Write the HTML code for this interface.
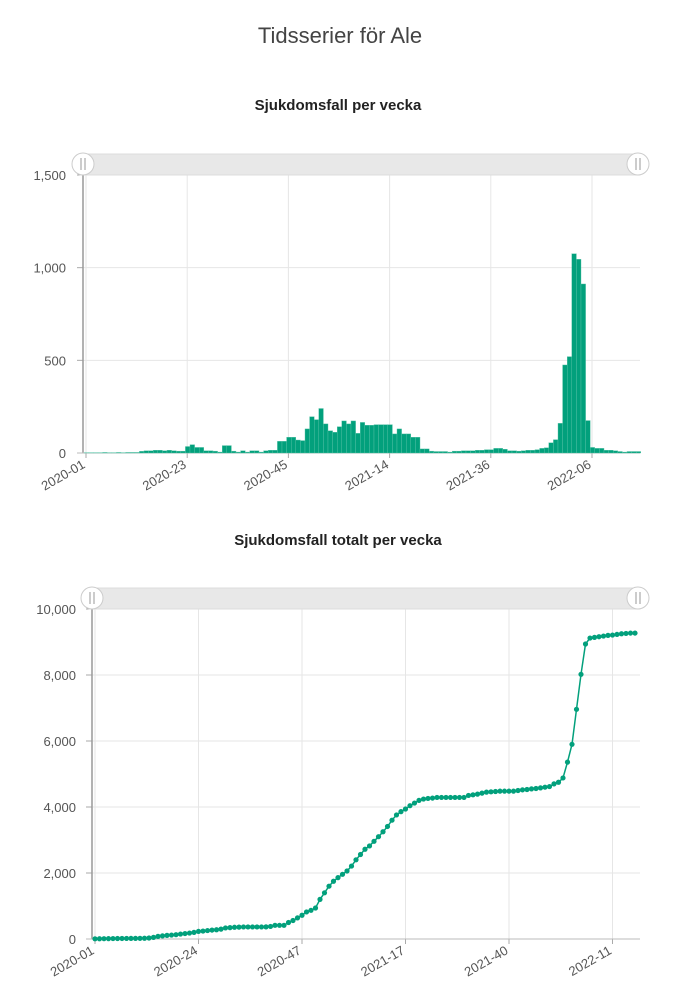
<!DOCTYPE html>
<html><head><meta charset="utf-8">
<style>
body{margin:0;background:#fff;width:677px;height:1000px;overflow:hidden;font-family:"Liberation Sans",sans-serif;}
svg{display:block}
text{font-family:"Liberation Sans",sans-serif;}
</style></head>
<body>
<svg id="root" width="677" height="1000">
<text x="340" y="43" text-anchor="middle" font-size="22" fill="#444">Tidsserier för Ale</text>
<text x="338" y="110" text-anchor="middle" font-size="15" font-weight="bold" fill="#222">Sjukdomsfall per vecka</text>
<text x="338" y="545" text-anchor="middle" font-size="15" font-weight="bold" fill="#222">Sjukdomsfall totalt per vecka</text>
<g id="c1"></g>
<g id="c2"></g>
</svg>
<script>
const weeklyTickLabels=["2020-01","2020-23","2020-45","2021-14","2021-36","2022-06"];
const weeklyTickIdx=[0,22,44,66,88,110];
const weeklyYTicks=[0,500,1000,1500];
const weeklyCases=[2,2,2,2,3,2,2,3,2,3,3,3,
9,12,12,15,15,12,15,12,10,10,35,45,
30,30,12,12,10,5,40,40,10,5,12,5,
12,12,5,12,15,15,63,63,85,85,70,67,
130,196,180,240,157,120,112,142,173,157,173,106,
165,150,150,153,153,153,153,103,130,103,103,85,
85,22,22,10,8,8,8,5,10,10,12,12,
12,15,15,18,18,25,25,20,12,12,10,12,
15,15,18,25,28,55,72,160,475,520,1075,1045,
912,175,30,25,25,15,15,12,8,5,8,8,8];
const totalTickLabels=["2020-01","2020-24","2020-47","2021-17","2021-40","2022-11"];
const totalTickIdx=[0,23,46,69,92,115];
const totalYTicks=[0,2000,4000,6000,8000,10000];
const totalCases=[5,8,10,12,14,15,16,17,18,19,20,22,
30,50,80,95,110,120,130,150,165,180,200,230,
240,255,270,280,300,335,345,355,360,365,365,365,
365,365,368,380,415,415,415,500,560,640,720,820,
870,940,1200,1400,1600,1750,1860,1960,2060,2210,2400,2560,
2720,2820,2960,3100,3250,3410,3600,3760,3860,3940,4040,4120,
4200,4240,4260,4270,4290,4290,4290,4290,4290,4290,4290,4350,
4370,4390,4420,4450,4460,4470,4480,4480,4480,4480,4500,4520,
4530,4550,4560,4580,4600,4620,4700,4750,4880,5360,5900,6960,
8020,8940,9120,9140,9160,9180,9200,9210,9230,9250,9260,9270,9270];

const NS="http://www.w3.org/2000/svg";
function mk(parent,tag,attrs){const e=document.createElementNS(NS,tag);for(const k in attrs)e.setAttribute(k,attrs[k]);parent.appendChild(e);return e;}
function fmt(v){return v.toLocaleString('en-US');}

function axes(g,o){
  const {x0,x1,yTop,y0,ymax,step,yTicks,tickIdx,tickLabels,labelX,sbY,sbX0,sbX1}=o;
  const X=i=>x0+3+step*i, Y=v=>y0-(y0-yTop)*v/ymax;
  yTicks.forEach(v=>{
    const l=mk(g,'line',{x1:x0,x2:x1,y1:Y(v),y2:Y(v),stroke:'#e6e6e6','stroke-width':1});
    
    
    const t=mk(g,'text',{x:labelX,y:Y(v)+5,'text-anchor':'end','font-size':13,fill:'#555'});
    t.textContent=fmt(v);
    
    
    mk(g,'line',{x1:x0-6,x2:x0,y1:Y(v),y2:Y(v),stroke:'#aaa'});
  });
  tickIdx.forEach((ix,k)=>{
    const x=X(ix);
    const l=mk(g,'line',{x1:x,x2:x,y1:yTop-10,y2:y0,stroke:'#e6e6e6'});
    
    
    mk(g,'line',{x1:x,x2:x,y1:y0,y2:y0+5,stroke:'#aaa'});
    const t=mk(g,'text',{x:x,y:y0+14,'text-anchor':'end','font-size':13,fill:'#555',transform:`rotate(-30 ${x} ${y0+14})`});
    t.textContent=tickLabels[k];
    
    
  });
  const ax=mk(g,'line',{x1:x0,x2:x0,y1:yTop-10,y2:y0,stroke:'#999','stroke-width':1.5});
  
  
  const bx=mk(g,'line',{x1:x0-6,x2:x1,y1:y0,y2:y0,stroke:'#bbb'});
  
  
  const sb=mk(g,'rect',{x:sbX0,y:sbY-10,width:sbX1-sbX0,height:21,fill:'#e8e8e8',stroke:'#ddd'});
  
  
  [sbX0+3,sbX1-2].forEach((cx,k)=>{
    const h=mk(g,'circle',{cx:cx,cy:sbY,r:11,fill:'#fff',stroke:'#ccc'});
    
    
    mk(g,'line',{x1:cx-2,x2:cx-2,y1:sbY-6,y2:sbY+6,stroke:'#999'});
    mk(g,'line',{x1:cx+2,x2:cx+2,y1:sbY-6,y2:sbY+6,stroke:'#999'});
  });
  return {X,Y};
}

// chart 1
(function(){
  const g=document.getElementById('c1');
  const o={x0:83,x1:640,yTop:175,y0:453,ymax:1500,step:4.6,yTicks:weeklyYTicks,tickIdx:weeklyTickIdx,tickLabels:weeklyTickLabels,labelX:66,sbY:164,sbX0:80,sbX1:640};
  const gg=mk(g,'g',{});
  const {X,Y}=axes(gg,o);
  const bars=mk(g,'g',{});
  weeklyCases.forEach((v,i)=>{
    const x=X(i)-o.step/2+0.5;
    const r=mk(bars,'rect',{x:x,y:Y(v),width:o.step,height:o.y0-Y(v),fill:'#02a07c',stroke:'#5cc4a9','stroke-width':0.4});
    
    
  });
})();
// chart 2
(function(){
  const g=document.getElementById('c2');
  const o={x0:92,x1:640,yTop:609,y0:939,ymax:10000,step:4.5,yTicks:totalYTicks,tickIdx:totalTickIdx,tickLabels:totalTickLabels,labelX:76,sbY:598,sbX0:89,sbX1:640};
  const gg=mk(g,'g',{});
  const {X,Y}=axes(gg,o);
  const d=totalCases.map((v,i)=>(i?'L':'M')+X(i).toFixed(1)+','+Y(v).toFixed(1)).join('');
  const p=mk(g,'path',{d:d,fill:'none',stroke:'#02a07c','stroke-width':1.5});
  
  
  totalCases.forEach((v,i)=>{
    const c=mk(g,'circle',{cx:X(i),cy:Y(v),r:2.6,fill:'#02a07c'});
    
    
  });
})();
</script>
</body></html>
